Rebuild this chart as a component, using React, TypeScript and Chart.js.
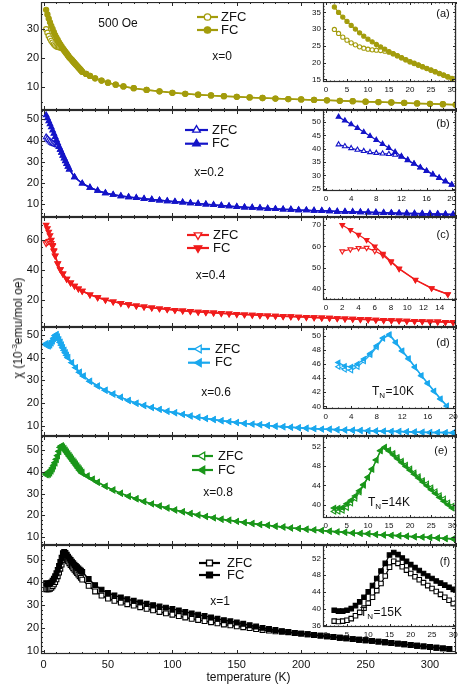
import { useEffect, useRef } from 'react';
import { Chart, registerables } from 'chart.js';

Chart.register(...registerables);

const FONT = '"Liberation Sans", Arial, Helvetica, sans-serif';
const FRAME = '#2a2a2a';

// ---------------- data (temperature in K, chi in 1e-3 emu/mol Oe) ----------------
const T_A_LO = [2, 3, 4, 5, 6, 7, 8, 9, 10, 11, 12, 13, 14, 15, 16, 17, 18, 19, 20, 21, 22, 23, 24, 25, 26, 27, 28, 29, 30];
const A_FC_LO = [36.6, 35.0, 33.6, 32.3, 31.1, 30.0, 28.9, 27.9, 27.0, 26.2, 25.4, 24.7, 24.0, 23.3, 22.7, 22.1, 21.5, 20.9, 20.3, 19.8, 19.3, 18.8, 18.3, 17.8, 17.3, 16.8, 16.3, 15.8, 15.3];
const A_ZFC_LO = [29.9, 28.7, 27.6, 26.7, 25.9, 25.3, 24.7, 24.3, 24.0, 23.8, 23.7, 23.6, 23.4, 23.1, 22.6, 22.0, 21.4, 20.8, 20.2, 19.7, 19.2, 18.7, 18.2, 17.7, 17.2, 16.7, 16.2, 15.7, 15.2];
const T_A_HI = [33, 36, 40, 45, 50, 56, 62, 70, 80, 90, 100, 110, 120, 130, 140, 150, 160, 170, 180, 190, 200, 210, 220, 230, 240, 250, 260, 270, 280, 290, 300, 310, 320];
const A_HI = [14.5, 13.8, 13.0, 12.2, 11.5, 10.8, 10.2, 9.6, 9.0, 8.5, 8.0, 7.65, 7.35, 7.1, 6.85, 6.6, 6.4, 6.2, 6.0, 5.85, 5.7, 5.55, 5.4, 5.25, 5.1, 4.95, 4.8, 4.65, 4.5, 4.35, 4.2, 4.05, 3.9];

const T_B_LO = [2, 3, 4, 5, 6, 7, 8, 9, 10, 11, 12, 13, 14, 15, 16, 17, 18, 19, 20];
const B_FC_LO = [52.0, 50.6, 49.2, 47.8, 46.3, 44.8, 43.3, 41.8, 40.3, 38.8, 37.2, 35.8, 34.4, 33.0, 31.7, 30.4, 29.1, 27.8, 26.5];
const B_ZFC_LO = [41.6, 40.9, 40.2, 39.6, 39.1, 38.7, 38.4, 38.2, 38.0, 37.7, 37.0, 35.7, 34.3, 32.9, 31.6, 30.3, 29.0, 27.7, 26.4];
const T_B_HI = [24, 30, 36, 42, 48, 54, 60, 66, 72, 78, 84, 90, 96, 102, 108, 114, 120, 126, 132, 138, 144, 150, 156, 162, 168, 174, 180, 186, 192, 198, 204, 210, 216, 222, 228, 234, 240, 246, 252, 258, 264, 270, 276, 282, 288, 294, 300, 306, 312, 318];
const B_HI = [22.8, 19.8, 17.9, 16.4, 15.3, 14.5, 13.9, 13.4, 13.0, 12.6, 12.2, 11.9, 11.5, 11.2, 10.9, 10.6, 10.3, 10.0, 9.7, 9.4, 9.1, 8.8, 8.6, 8.4, 8.2, 8.0, 7.8, 7.6, 7.5, 7.3, 7.2, 7.0, 6.9, 6.8, 6.6, 6.5, 6.4, 6.3, 6.2, 6.1, 6.0, 5.9, 5.8, 5.7, 5.6, 5.5, 5.45, 5.4, 5.3, 5.2];

const T_C_LO = [2, 3, 4, 5, 6, 7, 8, 9, 11, 13, 15];
const C_FC_LO = [70.0, 67.7, 65.4, 63.0, 60.0, 56.5, 53.0, 49.6, 44.3, 40.4, 37.6];
const C_ZFC_LO = [57.7, 58.6, 59.2, 59.3, 57.8, 55.8, 52.6, 49.4, 44.2, 40.3, 37.5];
const T_C_HI = [18, 21, 24, 27, 30, 36, 42, 48, 54, 60, 66, 72, 78, 84, 90, 96, 102, 108, 114, 120, 126, 132, 138, 144, 150, 156, 162, 168, 174, 180, 186, 192, 198, 204, 210, 216, 222, 228, 234, 240, 246, 252, 258, 264, 270, 276, 282, 288, 294, 300, 306, 312, 318];
const C_HI = [34.0, 31.5, 29.4, 27.6, 26.0, 23.6, 21.7, 20.1, 18.9, 17.9, 17.0, 16.2, 15.5, 14.9, 14.3, 13.8, 13.3, 12.9, 12.5, 12.1, 11.8, 11.5, 11.2, 10.9, 10.6, 10.3, 10.1, 9.8, 9.6, 9.4, 9.2, 9.0, 8.8, 8.6, 8.4, 8.2, 8.0, 7.8, 7.6, 7.4, 7.2, 7.0, 6.8, 6.6, 6.4, 6.3, 6.1, 5.9, 5.8, 5.6, 5.5, 5.3, 5.2];

const T_D_LO = [2, 3, 4, 5, 6, 7, 8, 9, 10, 11, 12, 13, 14, 15, 16, 17, 18, 19];
const D_FC_LO = [46.2, 45.7, 45.6, 46.0, 46.7, 47.5, 48.6, 49.7, 50.2, 49.1, 47.9, 46.8, 45.6, 44.4, 43.3, 42.2, 41.1, 40.1];
const D_ZFC_LO = [45.6, 45.2, 45.1, 45.6, 46.4, 47.3, 48.4, 49.6, 50.1, 49.0, 47.8, 46.7, 45.5, 44.3, 43.2, 42.1, 41.0, 40.0];
const T_D_HI = [22, 25, 28, 31, 36, 42, 48, 54, 60, 66, 72, 78, 84, 90, 96, 102, 108, 114, 120, 126, 132, 138, 144, 150, 156, 162, 168, 174, 180, 186, 192, 198, 204, 210, 216, 222, 228, 234, 240, 246, 252, 258, 264, 270, 276, 282, 288, 294, 300, 306, 312, 318];
const D_HI = [37.8, 35.6, 33.6, 31.9, 29.6, 27.5, 25.6, 24.0, 22.5, 21.1, 19.9, 18.9, 18.0, 17.2, 16.4, 15.7, 15.0, 14.3, 13.7, 13.2, 12.7, 12.2, 11.8, 11.4, 11.0, 10.7, 10.4, 10.1, 9.8, 9.5, 9.3, 9.1, 8.9, 8.7, 8.5, 8.4, 8.2, 8.1, 8.0, 7.9, 7.8, 7.7, 7.6, 7.5, 7.4, 7.3, 7.2, 7.1, 7.05, 7.0, 6.95, 6.9];

const T_E_LO = [2, 3, 4, 5, 6, 7, 8, 9, 10, 11, 12, 13, 14, 15, 16, 17, 18, 19, 20, 21, 22, 23, 24, 25, 26, 27, 28, 29, 30];
const E_FC_LO = [39.3, 39.3, 39.4, 40.2, 40.9, 41.8, 42.9, 44.2, 45.7, 47.4, 49.3, 51.2, 51.8, 51.1, 50.3, 49.5, 48.7, 47.9, 47.1, 46.3, 45.5, 44.7, 43.9, 43.1, 42.3, 41.5, 40.7, 40.0, 39.3];
const E_ZFC_LO = [38.6, 38.6, 38.8, 39.4, 40.3, 41.3, 42.6, 44.0, 45.6, 47.3, 49.2, 51.1, 51.9, 51.3, 50.6, 49.8, 49.0, 48.2, 47.4, 46.6, 45.8, 45.0, 44.3, 43.5, 42.7, 41.9, 41.2, 40.4, 39.7];
const T_E_HI = [34, 38, 42, 48, 54, 60, 66, 72, 78, 84, 90, 96, 102, 108, 114, 120, 126, 132, 138, 144, 150, 156, 162, 168, 174, 180, 186, 192, 198, 204, 210, 216, 222, 228, 234, 240, 246, 252, 258, 264, 270, 276, 282, 288, 294, 300, 306, 312, 318];
const E_HI = [38.0, 36.6, 35.2, 33.3, 31.6, 30.1, 28.8, 27.6, 26.4, 25.3, 24.3, 23.4, 22.5, 21.7, 20.9, 20.2, 19.5, 18.9, 18.3, 17.8, 17.3, 16.8, 16.3, 15.9, 15.5, 15.1, 14.7, 14.3, 14.0, 13.7, 13.4, 13.1, 12.8, 12.5, 12.3, 12.0, 11.8, 11.6, 11.3, 11.1, 10.9, 10.7, 10.5, 10.3, 10.1, 9.9, 9.7, 9.5, 9.3];

const T_F_LO = [2, 3, 4, 5, 6, 7, 8, 9, 10, 11, 12, 13, 14, 15, 16, 17, 18, 19, 20, 21, 22, 23, 24, 25, 26, 27, 28, 29, 30];
const F_FC_LO = [39.6, 39.4, 39.4, 39.6, 40.0, 40.7, 41.6, 42.7, 44.0, 45.5, 47.2, 49.0, 50.8, 52.8, 53.4, 52.9, 52.1, 51.3, 50.5, 49.8, 49.1, 48.4, 47.8, 47.2, 46.6, 46.1, 45.6, 45.1, 44.6];
const F_ZFC_LO = [37.0, 36.9, 37.0, 37.2, 37.6, 38.3, 39.1, 40.1, 41.3, 42.7, 44.3, 46.0, 47.8, 49.9, 51.3, 50.8, 50.0, 49.2, 48.4, 47.6, 46.9, 46.2, 45.5, 44.8, 44.1, 43.4, 42.7, 42.0, 41.2];
const T_F_HI = [35, 40, 45, 50, 55, 60, 65, 70, 75, 80, 85, 90, 95, 100, 105, 110, 115, 120, 125, 130, 135, 140, 145, 150, 155, 160, 165, 170, 175, 180, 185, 190, 195, 200, 205, 210, 215, 220, 225, 230, 235, 240, 245, 250, 255, 260, 265, 270, 275, 280, 285, 290, 295, 300, 305, 310, 315];
const F_FC_HI = [41.5, 38.8, 36.8, 35.3, 34.3, 33.4, 32.6, 31.9, 31.2, 30.6, 30.0, 29.4, 28.9, 28.3, 27.7, 27.0, 26.4, 25.8, 25.2, 24.6, 24.0, 23.4, 22.9, 22.4, 21.8, 21.2, 20.6, 20.0, 19.5, 19.1, 18.6, 18.2, 17.8, 17.5, 17.2, 16.9, 16.6, 16.3, 16.0, 15.7, 15.4, 15.1, 14.8, 14.6, 14.3, 14.0, 13.7, 13.4, 13.1, 12.8, 12.5, 12.2, 11.9, 11.6, 11.3, 11.0, 10.8];
const F_ZFC_HI = [38.5, 36.0, 34.2, 32.9, 31.9, 31.1, 30.4, 29.8, 29.1, 28.4, 27.7, 27.0, 26.4, 25.8, 25.2, 24.6, 24.0, 23.5, 23.0, 22.5, 22.0, 21.5, 21.1, 20.7, 20.3, 19.9, 19.5, 19.1, 18.8, 18.5, 18.3, 18.1, 17.8, 17.5, 17.2, 16.9, 16.6, 16.3, 16.0, 15.7, 15.4, 15.1, 14.8, 14.6, 14.3, 14.0, 13.7, 13.4, 13.1, 12.8, 12.5, 12.2, 11.9, 11.6, 11.3, 11.0, 10.8];

// ---------------- tick labels ----------------
const X_TICKS = [0, 50, 100, 150, 200, 250, 300];
const Y_TICKS_A = [10, 20, 30];
const Y_TICKS_B = [10, 20, 30, 40, 50];
const Y_TICKS_C = [20, 40, 60];
const Y_TICKS_D = [10, 20, 30, 40, 50];
const Y_TICKS_E = [10, 20, 30, 40, 50];
const Y_TICKS_F = [10, 20, 30, 40, 50];
const IN_X_A = [0, 5, 10, 15, 20, 25, 30];
const IN_Y_A = [15, 20, 25, 30, 35];
const IN_X_B = [0, 4, 8, 12, 16, 20];
const IN_Y_B = [25, 30, 35, 40, 45, 50];
const IN_X_C = [0, 2, 4, 6, 8, 10, 12, 14];
const IN_Y_C = [40, 50, 60, 70];
const IN_X_D = [0, 4, 8, 12, 16, 20];
const IN_Y_D = [40, 42, 44, 46, 48, 50];
const IN_X_E = [0, 5, 10, 15, 20, 25, 30];
const IN_Y_E = [40, 44, 48, 52];
const IN_X_F = [0, 5, 10, 15, 20, 25, 30];
const IN_Y_F = [36, 40, 44, 48, 52];

// ---------------- layout / style ----------------
type Inset = { bottom: number; xMin: number; xMax: number; yMin: number; yMax: number; xTicks: number[]; yTicks: number[]; xMinor: number; yMinor: number };
type Panel = {
  key: string; top: number; bottom: number; color: string; style: string; rot: number;
  r: number; rIn: number; rLeg: number;
  yMin: number; yMax: number; yTicks: number[]; yMinor: number;
  loT: number[]; loZ: number[]; loF: number[]; hiT: number[]; hiZ: number[]; hiF: number[];
  inset: Inset;
  legend: { x1: number; x2: number; y1: number; y2: number; tx: number };
  notes: { t: string; x: number; y: number }[];
  letter: { t: string; x: number; y: number };
  tn?: { v: string; x: number; y: number };
};

const PANELS: Panel[] = [
  {
    key: 'a', top: 2, bottom: 110, color: '#a39c0c', style: 'circle', rot: 0, r: 2.6, rIn: 2.1, rLeg: 3.2,
    yMin: 2.07, yMax: 39.3, yTicks: Y_TICKS_A, yMinor: 5,
    loT: T_A_LO, loZ: A_ZFC_LO, loF: A_FC_LO, hiT: T_A_HI, hiZ: A_HI, hiF: A_HI,
    inset: { bottom: 82, xMin: -0.71, xMax: 30.95, yMin: 14.2, yMax: 38.1, xTicks: IN_X_A, yTicks: IN_Y_A, xMinor: 1, yMinor: 1 },
    legend: { x1: 197, x2: 218, y1: 17, y2: 30, tx: 221 },
    notes: [{ t: '500 Oe', x: 118, y: 24 }, { t: 'x=0', x: 222, y: 57 }],
    letter: { t: '(a)', x: 443, y: 14 },
  },
  {
    key: 'b', top: 110, bottom: 217, color: '#1414c8', style: 'triangle', rot: 0, r: 3.2, rIn: 2.8, rLeg: 4.4,
    yMin: 4.0, yMax: 54.4, yTicks: Y_TICKS_B, yMinor: 2,
    loT: T_B_LO, loZ: B_ZFC_LO, loF: B_FC_LO, hiT: T_B_HI, hiZ: B_HI, hiF: B_HI,
    inset: { bottom: 191.3, xMin: -0.48, xMax: 20.68, yMin: 24.1, yMax: 54.6, xTicks: IN_X_B, yTicks: IN_Y_B, xMinor: 1, yMinor: 1 },
    legend: { x1: 185, x2: 208, y1: 130, y2: 143.7, tx: 212 },
    notes: [{ t: 'x=0.2', x: 209, y: 173 }],
    letter: { t: '(b)', x: 443, y: 124 },
  },
  {
    key: 'c', top: 217, bottom: 327, color: '#f01c1c', style: 'triangle', rot: 180, r: 3.2, rIn: 2.8, rLeg: 4.4,
    yMin: 2.0, yMax: 75.3, yTicks: Y_TICKS_C, yMinor: 5,
    loT: T_C_LO, loZ: C_ZFC_LO, loF: C_FC_LO, hiT: T_C_HI, hiZ: C_HI, hiF: C_HI,
    inset: { bottom: 300, xMin: -0.37, xMax: 16, yMin: 34.84, yMax: 73.75, xTicks: IN_X_C, yTicks: IN_Y_C, xMinor: 0.5, yMinor: 2 },
    legend: { x1: 187, x2: 209, y1: 235, y2: 248, tx: 213 },
    notes: [{ t: 'x=0.4', x: 210.5, y: 276 }],
    letter: { t: '(c)', x: 443, y: 235 },
  },
  {
    key: 'd', top: 327, bottom: 436, color: '#1aa8ee', style: 'triangle', rot: 270, r: 3.2, rIn: 2.8, rLeg: 4.4,
    yMin: 5.46, yMax: 53.5, yTicks: Y_TICKS_D, yMinor: 2,
    loT: T_D_LO, loZ: D_ZFC_LO, loF: D_FC_LO, hiT: T_D_HI, hiZ: D_HI, hiF: D_HI,
    inset: { bottom: 408.7, xMin: -0.42, xMax: 20.42, yMin: 39.62, yMax: 51.24, xTicks: IN_X_D, yTicks: IN_Y_D, xMinor: 1, yMinor: 0.5 },
    legend: { x1: 188, x2: 210, y1: 349, y2: 362.7, tx: 215 },
    notes: [{ t: 'x=0.6', x: 216, y: 393 }],
    letter: { t: '(d)', x: 443, y: 343 },
    tn: { v: '10K', x: 372, y: 392 },
  },
  {
    key: 'e', top: 436, bottom: 545, color: '#1a961a', style: 'triangle', rot: 270, r: 3.2, rIn: 3.0, rLeg: 4.4,
    yMin: 6.5, yMax: 56.3, yTicks: Y_TICKS_E, yMinor: 2,
    loT: T_E_LO, loZ: E_ZFC_LO, loF: E_FC_LO, hiT: T_E_HI, hiZ: E_HI, hiF: E_HI,
    inset: { bottom: 517.7, xMin: -0.64, xMax: 30.88, yMin: 37.25, yMax: 54.2, xTicks: IN_X_E, yTicks: IN_Y_E, xMinor: 1, yMinor: 1 },
    legend: { x1: 192, x2: 213, y1: 456, y2: 470, tx: 218 },
    notes: [{ t: 'x=0.8', x: 218, y: 493 }],
    letter: { t: '(e)', x: 441, y: 451 },
    tn: { v: '14K', x: 368, y: 503 },
  },
  {
    key: 'f', top: 545, bottom: 654, color: '#000000', style: 'rect', rot: 0, r: 3.4, rIn: 3.2, rLeg: 4.2,
    yMin: 8.55, yMax: 56.4, yTicks: Y_TICKS_F, yMinor: 2,
    loT: T_F_LO, loZ: F_ZFC_LO, loF: F_FC_LO, hiT: T_F_HI, hiZ: F_ZFC_HI, hiF: F_FC_HI,
    inset: { bottom: 626.7, xMin: -0.64, xMax: 30.64, yMin: 35.6, yMax: 55.2, xTicks: IN_X_F, yTicks: IN_Y_F, xMinor: 1, yMinor: 1 },
    legend: { x1: 199, x2: 220, y1: 563, y2: 575, tx: 227 },
    notes: [{ t: 'x=1', x: 220, y: 602 }],
    letter: { t: '(f)', x: 445, y: 562 },
    tn: { v: '15K', x: 360, y: 613 },
  },
];

const INSET_LEFT = 300;
const INSET_W = 164;
const INSET_XAXIS_H = 14;
const MAIN_XAXIS_H = 35;

// ---------------- helpers ----------------
function seg(ctx: CanvasRenderingContext2D, x1: number, y1: number, x2: number, y2: number) {
  ctx.beginPath();
  ctx.moveTo(x1, y1);
  ctx.lineTo(x2, y2);
  ctx.stroke();
}

function drawMarker(ctx: CanvasRenderingContext2D, style: string, rot: number, x: number, y: number, r: number, fill: string, stroke: string) {
  ctx.save();
  ctx.translate(x, y);
  ctx.rotate((rot * Math.PI) / 180);
  ctx.beginPath();
  if (style === 'circle') {
    ctx.arc(0, 0, r, 0, Math.PI * 2);
  } else if (style === 'rect') {
    const s = r * Math.SQRT1_2;
    ctx.rect(-s, -s, 2 * s, 2 * s);
  } else {
    for (let k = 0; k < 3; k++) {
      const a = (k * 2 * Math.PI) / 3;
      const px = Math.sin(a) * r;
      const py = -Math.cos(a) * r;
      if (k === 0) ctx.moveTo(px, py);
      else ctx.lineTo(px, py);
    }
    ctx.closePath();
  }
  ctx.fillStyle = fill;
  ctx.fill();
  ctx.lineWidth = 1.3;
  ctx.strokeStyle = stroke;
  ctx.stroke();
  ctx.restore();
}

const isMajor = (arr: number[], v: number) => arr.some((t) => Math.abs(t - v) < 1e-6);

function drawFrameTicks(chart: any, xMajor: number[], xMinor: number, yMajor: number[], yMinor: number, big: number, small: number) {
  const { ctx, chartArea: a, scales } = chart;
  const xs = scales.x;
  const ys = scales.y;
  ctx.save();
  ctx.strokeStyle = FRAME;
  ctx.lineWidth = 1;
  for (let v = Math.ceil(xs.min / xMinor) * xMinor; v <= xs.max + 1e-9; v += xMinor) {
    const px = Math.round(xs.getPixelForValue(v)) + 0.5;
    const L = isMajor(xMajor, v) ? big : small;
    seg(ctx, px, a.bottom, px, a.bottom - L);
    seg(ctx, px, a.top, px, a.top + L);
  }
  for (let v = Math.ceil(ys.min / yMinor) * yMinor; v <= ys.max + 1e-9; v += yMinor) {
    const py = Math.round(ys.getPixelForValue(v)) + 0.5;
    const L = isMajor(yMajor, v) ? big : small;
    seg(ctx, a.left, py, a.left + L, py);
    seg(ctx, a.right, py, a.right - L, py);
  }
  ctx.lineWidth = 1.2;
  ctx.strokeRect(a.left + 0.5, a.top + 0.5, a.right - a.left - 1, a.bottom - a.top - 1);
  ctx.restore();
}

function makeSets(p: Panel, T: number[], F: number[], Z: number[], r: number, lw: number) {
  const pts = (V: number[]) => T.map((t, i) => ({ x: t, y: V[i] }));
  const common = {
    borderColor: p.color,
    pointBorderColor: p.color,
    pointStyle: p.style,
    pointRotation: p.rot,
    pointRadius: r,
    pointBorderWidth: 1.1,
    borderWidth: lw,
    tension: 0,
    fill: false,
  };
  return [
    { label: 'FC', data: pts(F), backgroundColor: p.color, pointBackgroundColor: p.color, ...common },
    { label: 'ZFC', data: pts(Z), backgroundColor: '#ffffff', pointBackgroundColor: '#ffffff', ...common },
  ];
}

function mainConfig(p: Panel, last: boolean): any {
  const T = [...p.loT, ...p.hiT];
  const F = [...p.loF, ...p.hiF];
  const Z = [...p.loZ, ...p.hiZ];
  return {
    type: 'line',
    data: { datasets: makeSets(p, T, F, Z, p.r, 1.5) },
    options: {
      animation: false,
      responsive: false,
      devicePixelRatio: 1,
      events: [],
      layout: { autoPadding: false, padding: { left: 0, right: 8, top: 0, bottom: 0 } },
      plugins: { legend: { display: false }, tooltip: { enabled: false } },
      scales: {
        x: {
          type: 'linear', min: -2, max: 320.2, display: last,
          afterBuildTicks: (s: any) => { s.ticks = X_TICKS.map((v) => ({ value: v })); },
          afterFit: (s: any) => { s.height = last ? MAIN_XAXIS_H : 0; s.paddingLeft = 0; s.paddingRight = 0; s.paddingTop = 0; s.paddingBottom = 0; },
          grid: { display: false, drawTicks: false },
          border: { display: false },
          ticks: { font: { family: FONT, size: 11 }, color: '#111', padding: 4, maxRotation: 0, autoSkip: false },
          title: { display: last, text: 'temperature (K)', font: { family: FONT, size: 12 }, color: '#111', padding: { top: 0, bottom: 4 } },
        },
        y: {
          type: 'linear', min: p.yMin, max: p.yMax,
          afterBuildTicks: (s: any) => { s.ticks = p.yTicks.map((v) => ({ value: v })); },
          afterFit: (s: any) => { s.width = 41; s.paddingTop = 0; s.paddingBottom = 0; s.paddingLeft = 0; s.paddingRight = 0; },
          grid: { display: false, drawTicks: false },
          border: { display: false },
          ticks: { font: { family: FONT, size: 11 }, color: '#111', padding: 2, autoSkip: false },
        },
      },
    },
    plugins: [
      {
        id: 'mainDeco' + p.key,
        afterDatasetsDraw(chart: any) {
          drawFrameTicks(chart, X_TICKS, 10, p.yTicks, p.yMinor, 4, 2);
          const ctx: CanvasRenderingContext2D = chart.ctx;
          ctx.save();
          const lg = p.legend;
          const rows: [string, number, string][] = [['ZFC', lg.y1, '#ffffff'], ['FC', lg.y2, p.color]];
          rows.forEach(([label, yy, fill]) => {
            const y = yy - p.top;
            ctx.strokeStyle = p.color;
            ctx.lineWidth = 2.2;
            seg(ctx, lg.x1, y, lg.x2, y);
            drawMarker(ctx, p.style, p.rot, (lg.x1 + lg.x2) / 2, y, p.rLeg, fill, p.color);
            ctx.fillStyle = '#111';
            ctx.font = `13px ${FONT}`;
            ctx.textAlign = 'left';
            ctx.textBaseline = 'middle';
            ctx.fillText(label, lg.tx, y);
          });
          ctx.font = `12px ${FONT}`;
          ctx.textAlign = 'center';
          ctx.fillStyle = '#111';
          p.notes.forEach((n) => ctx.fillText(n.t, n.x, n.y - p.top));
          ctx.restore();
        },
      },
    ],
  };
}

function insetConfig(p: Panel): any {
  const ins = p.inset;
  return {
    type: 'line',
    data: { datasets: makeSets(p, p.loT, p.loF, p.loZ, p.rIn, 1.2) },
    options: {
      animation: false,
      responsive: false,
      devicePixelRatio: 1,
      events: [],
      layout: { autoPadding: false, padding: { left: 0, right: 8, top: 0, bottom: 0 } },
      plugins: { legend: { display: false }, tooltip: { enabled: false } },
      scales: {
        x: {
          type: 'linear', min: ins.xMin, max: ins.xMax,
          afterBuildTicks: (s: any) => { s.ticks = ins.xTicks.map((v) => ({ value: v })); },
          afterFit: (s: any) => { s.height = INSET_XAXIS_H; s.paddingLeft = 0; s.paddingRight = 0; s.paddingTop = 0; s.paddingBottom = 0; },
          grid: { display: false, drawTicks: false },
          border: { display: false },
          ticks: { font: { family: FONT, size: 8 }, color: '#111', padding: 3, maxRotation: 0, autoSkip: false },
        },
        y: {
          type: 'linear', min: ins.yMin, max: ins.yMax,
          afterBuildTicks: (s: any) => { s.ticks = ins.yTicks.map((v) => ({ value: v })); },
          afterFit: (s: any) => { s.width = 23; s.paddingTop = 0; s.paddingBottom = 0; s.paddingLeft = 0; s.paddingRight = 0; },
          grid: { display: false, drawTicks: false },
          border: { display: false },
          ticks: { font: { family: FONT, size: 8 }, color: '#111', padding: 2, autoSkip: false },
        },
      },
    },
    plugins: [
      {
        id: 'insetDeco' + p.key,
        beforeDatasetsDraw(chart: any) {
          const { ctx, chartArea: a } = chart;
          ctx.save();
          ctx.fillStyle = '#ffffff';
          ctx.fillRect(a.left, a.top, a.right - a.left, a.bottom - a.top);
          ctx.restore();
        },
        afterDatasetsDraw(chart: any) {
          drawFrameTicks(chart, ins.xTicks, ins.xMinor, ins.yTicks, ins.yMinor, 3, 1.5);
          const ctx: CanvasRenderingContext2D = chart.ctx;
          ctx.save();
          ctx.fillStyle = '#111';
          ctx.textBaseline = 'middle';
          ctx.textAlign = 'center';
          ctx.font = `11px ${FONT}`;
          ctx.fillText(p.letter.t, p.letter.x - INSET_LEFT, p.letter.y - p.top);
          if (p.tn) {
            let x = p.tn.x - INSET_LEFT;
            const y = p.tn.y - p.top;
            ctx.textAlign = 'left';
            ctx.font = `12px ${FONT}`;
            ctx.fillText('T', x, y);
            x += ctx.measureText('T').width;
            ctx.font = `8px ${FONT}`;
            ctx.fillText('N', x, y + 3.5);
            x += ctx.measureText('N').width + 0.5;
            ctx.font = `12px ${FONT}`;
            ctx.fillText('=' + p.tn.v, x, y);
          }
          ctx.restore();
        },
      },
    ],
  };
}

function ChartBox({ left, top, width, height, make }: { left: number; top: number; width: number; height: number; make: () => any }) {
  const ref = useRef<HTMLCanvasElement>(null);
  useEffect(() => {
    const chart = new Chart(ref.current as HTMLCanvasElement, make());
    return () => chart.destroy();
  }, []);
  return (
    <canvas
      ref={ref}
      width={width}
      height={height}
      style={{ position: 'absolute', left, top, width, height }}
    />
  );
}

export default function App() {
  return (
    <div style={{ position: 'fixed', left: 0, top: 0, width: 464, height: 689, background: '#ffffff', overflow: 'hidden' }}>
      {PANELS.map((p, i) => {
        const last = i === PANELS.length - 1;
        const h = last ? 689 - p.top : p.bottom - p.top;
        return <ChartBox key={'m' + p.key} left={0} top={p.top} width={464} height={h} make={() => mainConfig(p, last)} />;
      })}
      {PANELS.map((p) => (
        <ChartBox
          key={'i' + p.key}
          left={INSET_LEFT}
          top={p.top}
          width={INSET_W}
          height={Math.round(p.inset.bottom - p.top) + INSET_XAXIS_H}
          make={() => insetConfig(p)}
        />
      ))}
      <div
        style={{
          position: 'absolute',
          left: 19,
          top: 328,
          transform: 'translate(-50%, -50%) rotate(-90deg)',
          whiteSpace: 'nowrap',
          fontFamily: FONT,
          fontSize: 12,
          color: '#111',
          lineHeight: '14px',
        }}
      >
        χ (10<span style={{ fontSize: 8, position: 'relative', top: -5 }}>-3</span>emu/mol oe)
      </div>
    </div>
  );
}
